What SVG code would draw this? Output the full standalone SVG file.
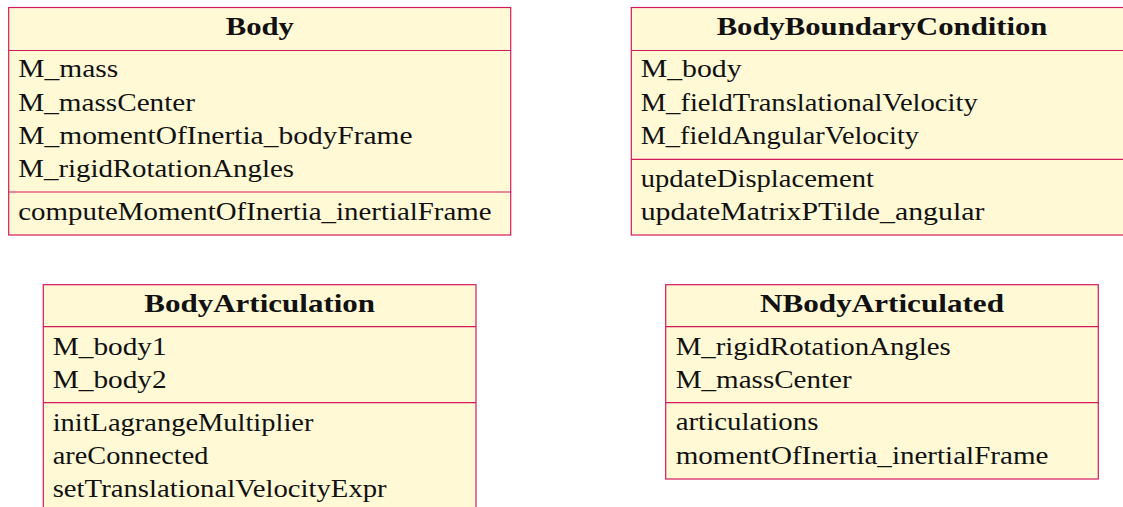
<svg xmlns="http://www.w3.org/2000/svg" width="1123" height="507" viewBox="0 0 1123 507">
<style>
.box{fill:#fff9d6;stroke:#d41a5a;stroke-width:1.2}
.sep{stroke:#d41a5a;stroke-width:1.2}
.t{font-weight:bold;text-anchor:middle}
</style>
<rect width="1123" height="507" fill="#ffffff"/>
<g font-family="'Liberation Serif', 'Times New Roman', serif" font-size="25.5" fill="#111111">
<g id="Body">
<rect class="box" x="8.7" y="7.5" width="502" height="227.5"/>
<line class="sep" x1="8.7" y1="50.5" x2="510.7" y2="50.5"/>
<line class="sep" x1="8.7" y1="192" x2="510.7" y2="192"/>
<text class="t" x="259.8" y="35" textLength="68.3" lengthAdjust="spacingAndGlyphs">Body</text>
<text x="18.3" y="77.3" textLength="100" lengthAdjust="spacingAndGlyphs">M_mass</text>
<text x="18.3" y="110.6" textLength="176.7" lengthAdjust="spacingAndGlyphs">M_massCenter</text>
<text x="18.3" y="143.8" textLength="394.3" lengthAdjust="spacingAndGlyphs">M_momentOfInertia_bodyFrame</text>
<text x="18.3" y="177" textLength="275.7" lengthAdjust="spacingAndGlyphs">M_rigidRotationAngles</text>
<text x="18.3" y="220" textLength="473.3" lengthAdjust="spacingAndGlyphs">computeMomentOfInertia_inertialFrame</text>
</g>
<g id="BodyBoundaryCondition">
<rect class="box" x="631.3" y="7.5" width="510" height="227.5"/>
<line class="sep" x1="631.3" y1="50.5" x2="1141.3" y2="50.5"/>
<line class="sep" x1="631.3" y1="159.3" x2="1141.3" y2="159.3"/>
<text class="t" x="882" y="35" textLength="330.7" lengthAdjust="spacingAndGlyphs">BodyBoundaryCondition</text>
<text x="640.7" y="77.3" textLength="101" lengthAdjust="spacingAndGlyphs">M_body</text>
<text x="640.7" y="110.6" textLength="337" lengthAdjust="spacingAndGlyphs">M_fieldTranslationalVelocity</text>
<text x="640.7" y="143.8" textLength="278.3" lengthAdjust="spacingAndGlyphs">M_fieldAngularVelocity</text>
<text x="640.7" y="186.7" textLength="233.3" lengthAdjust="spacingAndGlyphs">updateDisplacement</text>
<text x="640.7" y="220" textLength="343.7" lengthAdjust="spacingAndGlyphs">updateMatrixPTilde_angular</text>
</g>
<g id="BodyArticulation">
<rect class="box" x="43.3" y="284.7" width="432.7" height="240"/>
<line class="sep" x1="43.3" y1="326.7" x2="476" y2="326.7"/>
<line class="sep" x1="43.3" y1="402.7" x2="476" y2="402.7"/>
<text class="t" x="259.7" y="311.7" textLength="230.7" lengthAdjust="spacingAndGlyphs">BodyArticulation</text>
<text x="52.7" y="355" textLength="114" lengthAdjust="spacingAndGlyphs">M_body1</text>
<text x="52.7" y="388.3" textLength="114" lengthAdjust="spacingAndGlyphs">M_body2</text>
<text x="52.7" y="430.7" textLength="260.7" lengthAdjust="spacingAndGlyphs">initLagrangeMultiplier</text>
<text x="52.7" y="463.8" textLength="155.7" lengthAdjust="spacingAndGlyphs">areConnected</text>
<text x="52.7" y="496.9" textLength="334" lengthAdjust="spacingAndGlyphs">setTranslationalVelocityExpr</text>
</g>
<g id="NBodyArticulated">
<rect class="box" x="665.7" y="284.7" width="432.6" height="194.3"/>
<line class="sep" x1="665.7" y1="326.7" x2="1098.3" y2="326.7"/>
<line class="sep" x1="665.7" y1="402.7" x2="1098.3" y2="402.7"/>
<text class="t" x="882" y="311.7" textLength="244" lengthAdjust="spacingAndGlyphs">NBodyArticulated</text>
<text x="675.7" y="355" textLength="275" lengthAdjust="spacingAndGlyphs">M_rigidRotationAngles</text>
<text x="675.7" y="388.3" textLength="176" lengthAdjust="spacingAndGlyphs">M_massCenter</text>
<text x="675.7" y="430.3" textLength="142.7" lengthAdjust="spacingAndGlyphs">articulations</text>
<text x="675.7" y="463.5" textLength="372.7" lengthAdjust="spacingAndGlyphs">momentOfInertia_inertialFrame</text>
</g>
</g>
<g id="connectors"></g>
</svg>
